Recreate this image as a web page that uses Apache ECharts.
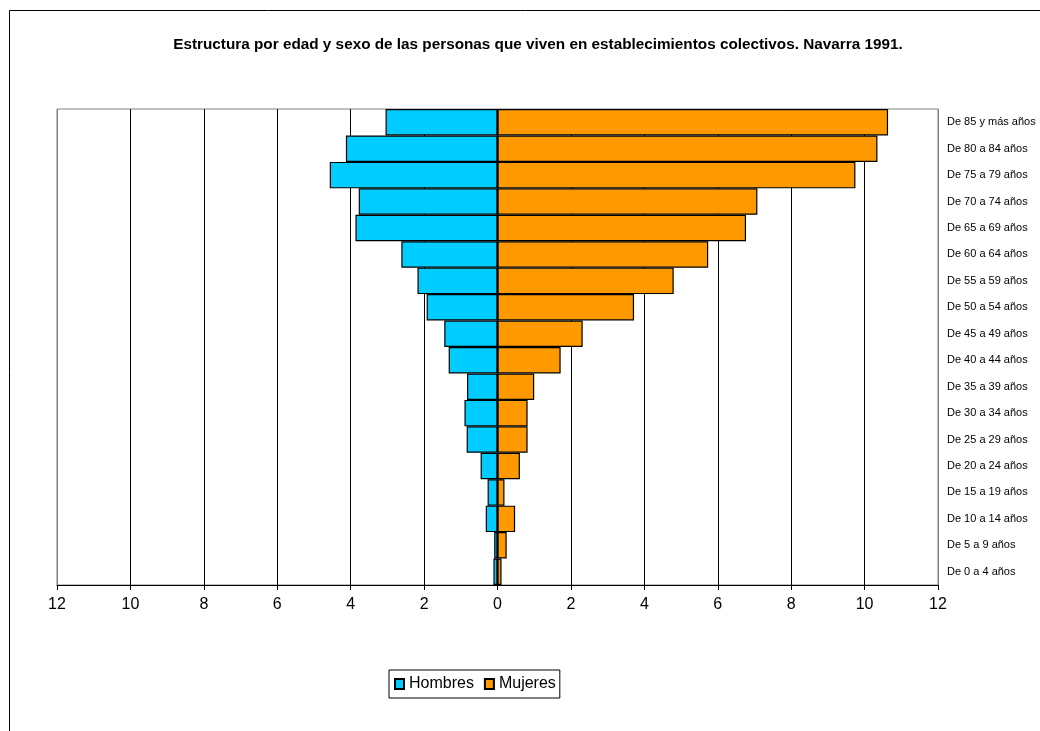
<!DOCTYPE html>
<html>
<head>
<meta charset="utf-8">
<title>Estructura por edad y sexo - Navarra 1991</title>
<script src="https://cdn.jsdelivr.net/npm/echarts@6/dist/echarts.min.js"></script>
<style>
  html, body { margin: 0; padding: 0; background: #fff; }
  #chart { width: 1040px; height: 731px; }
</style>
</head>
<body>
<div id="chart"></div>
<script>
// grupos de edad, de abajo hacia arriba
const categories = [
  'De 0 a 4 años', 'De 5 a 9 años', 'De 10 a 14 años', 'De 15 a 19 años',
  'De 20 a 24 años', 'De 25 a 29 años', 'De 30 a 34 años', 'De 35 a 39 años',
  'De 40 a 44 años', 'De 45 a 49 años', 'De 50 a 54 años', 'De 55 a 59 años',
  'De 60 a 64 años', 'De 65 a 69 años', 'De 70 a 74 años', 'De 75 a 79 años',
  'De 80 a 84 años', 'De 85 y más años'
]

// porcentajes
const hombres = [0.11, 0.09, 0.32, 0.27, 0.46, 0.84, 0.90, 0.83, 1.33, 1.45, 1.93, 2.18, 2.62, 3.87, 3.78, 4.57, 4.13, 3.05]
const mujeres = [0.11, 0.25, 0.48, 0.19, 0.61, 0.82, 0.82, 1.00, 1.72, 2.32, 3.72, 4.80, 5.74, 6.77, 7.08, 9.75, 10.35, 10.64]

const xMin = -12
const xMax = 12
const xStep = 2

const font = 'Liberation Sans, Arial, Helvetica, sans-serif'

// las líneas de los extremos van en gris como el borde del área
const nLines = (xMax - xMin) / xStep + 1
const splitColors = []
for (let i = 0; i < nLines; i++) {
  splitColors.push(i === 0 || i === nLines - 1 ? '#808080' : '#000')
}

const chart = echarts.init(document.getElementById('chart'))

chart.setOption({
  animation: false,
  backgroundColor: '#fff',
  textStyle: { fontFamily: font },
  title: {
    text: 'Estructura por edad y sexo de las personas que viven en establecimientos colectivos. Navarra 1991.',
    left: 533,
    textAlign: 'center',
    top: 32,
    textStyle: { fontFamily: font, fontSize: 15.3, fontWeight: 'bold', color: '#000' }
  },
  graphic: [{
    type: 'rect',
    shape: { x: 9.5, y: 10.5, width: 1100, height: 800 },
    style: { fill: 'none', stroke: '#000', lineWidth: 1 },
    silent: true
  }],
  legend: {
    data: ['Hombres', 'Mujeres'],
    icon: 'rect',
    left: 389,
    top: 670,
    orient: 'horizontal',
    borderColor: '#000',
    borderWidth: 1,
    padding: [6, 4, 6, 5],
    itemWidth: 9,
    itemHeight: 10,
    itemGap: 10,
    textStyle: { fontFamily: font, fontSize: 16, color: '#000' }
  },
  grid: {
    left: 57,
    right: 102,
    top: 109,
    bottom: 146,
    show: true,
    borderColor: '#808080',
    borderWidth: 1
  },
  xAxis: {
    type: 'value',
    min: xMin,
    max: xMax,
    interval: xStep,
    axisLine: { show: true, lineStyle: { color: '#000', width: 1 } },
    axisTick: { show: true, length: 5, lineStyle: { color: '#000' } },
    axisLabel: {
      margin: 12,
      fontFamily: font,
      fontSize: 16,
      color: '#000',
      formatter: v => Math.abs(v)
    },
    splitLine: { show: true, lineStyle: { color: splitColors, width: 1 } }
  },
  yAxis: {
    type: 'category',
    data: categories,
    position: 'right',
    axisLine: { show: false },
    axisTick: { show: false },
    axisLabel: { margin: 9, fontFamily: font, fontSize: 11, color: '#000' },
    splitLine: { show: false }
  },
  series: [
    {
      name: 'Hombres',
      type: 'bar',
      stack: 'total',
      barCategoryGap: '0%',
      data: hombres.map(v => -v),
      itemStyle: { color: '#00CCFF', borderColor: '#000', borderWidth: 1.2 }
    },
    {
      name: 'Mujeres',
      type: 'bar',
      stack: 'total',
      barCategoryGap: '0%',
      data: mujeres,
      itemStyle: { color: '#FF9900', borderColor: '#000', borderWidth: 1.2 }
    }
  ]
})
</script>
</body>
</html>
